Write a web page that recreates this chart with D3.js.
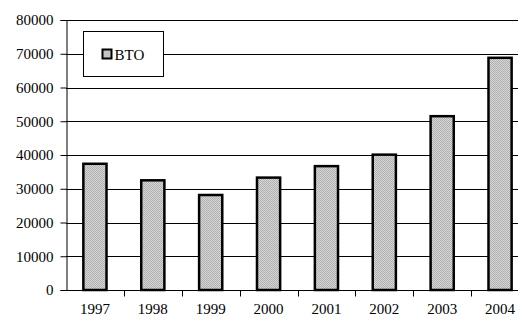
<!DOCTYPE html>
<html>
<head>
<meta charset="utf-8">
<script src="https://d3js.org/d3.v7.min.js"></script>
<style>
  body { margin: 0; background: #fff; }
  svg { display: block; }
  svg text { font-family: "Liberation Serif", "Times New Roman", serif; }
</style>
</head>
<body>
<div id="chart-area"></div>
<script>
// data
var years = ["1997", "1998", "1999", "2000", "2001", "2002", "2003", "2004"];
var bto = [37400, 32500, 28150, 33300, 36700, 40100, 51500, 68800];
var yTicks = [0, 10000, 20000, 30000, 40000, 50000, 60000, 70000, 80000];
var seriesName = "BTO";

var W = 518, H = 319;
var margin = { left: 66, top: 20 };
var width = 463, height = 270;

var svg = d3.select("#chart-area").append("svg")
  .attr("width", W)
  .attr("height", H);

// checker fill like the old excel pattern
var defs = svg.append("defs");
var pat = defs.append("pattern")
  .attr("id", "dots")
  .attr("width", 2).attr("height", 2)
  .attr("patternUnits", "userSpaceOnUse");
pat.append("rect").attr("width", 2).attr("height", 2).attr("fill", "#d6d6d6");
pat.append("rect").attr("width", 1).attr("height", 1).attr("fill", "#b0b0b0");
pat.append("rect").attr("x", 1).attr("y", 1).attr("width", 1).attr("height", 1).attr("fill", "#b0b0b0");

var g = svg.append("g")
  .attr("transform", "translate(" + margin.left + "," + margin.top + ")");

var x = d3.scaleBand()
  .domain(years)
  .range([0, width])
  .paddingInner(0.6)
  .paddingOuter(0.3);

var xTick = d3.scaleBand().domain(years).range([0, width]);

var y = d3.scaleLinear()
  .domain([0, 80000])
  .range([height, 0]);

// gridlines
g.selectAll(".grid")
  .data(yTicks.slice(1))
  .enter().append("line")
  .attr("x1", 0).attr("x2", width)
  .attr("y1", d => Math.round(y(d)) + 0.5)
  .attr("y2", d => Math.round(y(d)) + 0.5)
  .attr("stroke", "#000")
  .attr("stroke-width", 1);

// y axis
var yAxis = d3.axisLeft(y).tickValues(yTicks).tickSize(6).tickPadding(7).tickFormat(d3.format("d"));
var ya = g.append("g").attr("transform", "translate(0.5,0)").call(yAxis);
ya.attr("font-family", null);
ya.select(".domain").attr("stroke", "#000");
ya.selectAll(".tick line").attr("stroke", "#000");
ya.selectAll("text").attr("font-size", 15).attr("fill", "#000");

// bars
g.selectAll(".bar")
  .data(bto)
  .enter().append("rect")
  .attr("x", (d, i) => x(years[i]))
  .attr("width", x.bandwidth())
  .attr("y", d => y(d))
  .attr("height", d => height - y(d))
  .attr("fill", "url(#dots)")
  .attr("stroke", "#000")
  .attr("stroke-width", 2.5);

// x axis (ticks at band edges)
var xa = g.append("g").attr("transform", "translate(0," + (height + 0.5) + ")");
xa.append("line").attr("x1", 0).attr("x2", width).attr("stroke", "#000");
xa.selectAll(".xt")
  .data(years)
  .enter().append("line")
  .attr("x1", d => Math.round(xTick(d) + xTick.bandwidth()) + 0.5)
  .attr("x2", d => Math.round(xTick(d) + xTick.bandwidth()) + 0.5)
  .attr("y1", 0).attr("y2", 6)
  .attr("stroke", "#000");
xa.selectAll(".xl")
  .data(years)
  .enter().append("text")
  .attr("x", d => xTick(d) + xTick.bandwidth() / 2)
  .attr("y", 23)
  .attr("text-anchor", "middle")
  .attr("font-size", 15)
  .text(d => d);

// legend
var leg = svg.append("g").attr("transform", "translate(83.5,31.5)");
leg.append("rect").attr("width", 80).attr("height", 45)
  .attr("fill", "#fff").attr("stroke", "#000");
leg.append("rect").attr("x", 19).attr("y", 18).attr("width", 9).attr("height", 9)
  .attr("fill", "url(#dots)").attr("stroke", "#000").attr("stroke-width", 2);
leg.append("text").attr("x", 31).attr("y", 28).attr("font-size", 15).text(seriesName);
</script>
</body>
</html>
